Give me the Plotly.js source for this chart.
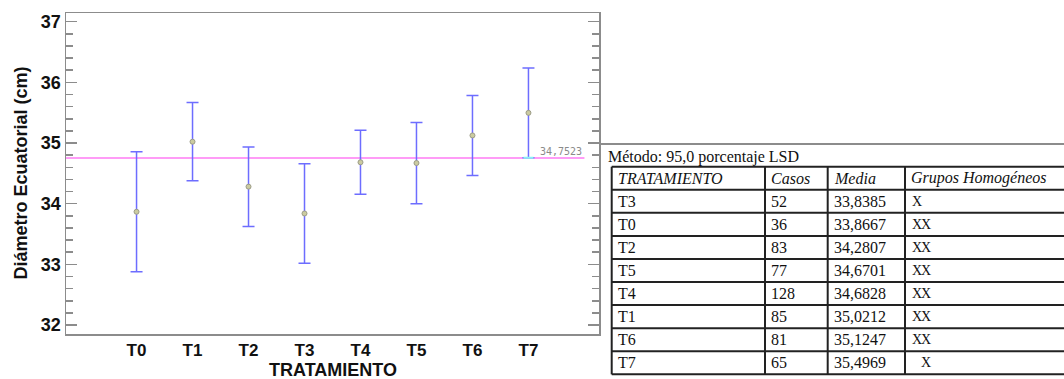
<!DOCTYPE html>
<html>
<head>
<meta charset="utf-8">
<script src="https://cdn.plot.ly/plotly-3.0.1.min.js"></script>
<style>
  html, body { margin: 0; padding: 0; background: #ffffff; }
  #chart { width: 1064px; height: 379px; }
</style>
</head>
<body>
<div id="chart"></div>
<script>
// Treatment means with 95% LSD intervals
const treatments = ['T0', 'T1', 'T2', 'T3', 'T4', 'T5', 'T6', 'T7'];
const means = [33.8667, 35.0212, 34.2807, 33.8385, 34.6828, 34.6701, 35.1247, 35.4969];
const lsdHalfWidth = [0.99, 0.645, 0.655, 0.82, 0.527, 0.67, 0.66, 0.74];
const grandMean = 34.7523;

// Multiple range test table (ordered by mean)
const methodText = 'Método: 95,0 porcentaje LSD';
const tableHeader = ['TRATAMIENTO', 'Casos', 'Media', 'Grupos Homogéneos'];
const tableTreatments = ['T3', 'T0', 'T2', 'T5', 'T4', 'T1', 'T6', 'T7'];
const tableCases = [52, 36, 83, 77, 128, 85, 81, 65];
const tableGroups = ['X', 'XX', 'XX', 'XX', 'XX', 'XX', 'XX', ' X'];

const xTitle = 'TRATAMIENTO';
const yTitle = 'Diámetro Ecuatorial (cm)';

const W = 1064, H = 379;
const fmt = v => v.toFixed(4).replace('.', ',');
const px = x => x / W;
const py = y => 1 - y / H;

const xIdx = treatments.map((_, i) => i);
const xRange = [-1.26, 8.26];
const yRange = [31.852, 37.143];

const traces = [{
  type: 'scatter',
  mode: 'markers',
  x: xIdx,
  y: means,
  marker: { size: 5, color: '#cbcba0', line: { color: '#9c9c88', width: 1 } },
  error_y: {
    type: 'data', array: lsdHalfWidth, symmetric: true,
    color: '#6d6dff', thickness: 1.5, width: 6
  },
  hoverinfo: 'x+y',
  showlegend: false
}];

const shapes = [
  // grand mean line
  { type: 'line', xref: 'x', yref: 'y', x0: xRange[0], x1: 8, y0: grandMean, y1: grandMean,
    line: { color: '#ff9cf7', width: 2 }, layer: 'below' },
  // lower cap of the last interval touching the grand mean
  { type: 'line', xref: 'x', yref: 'y', x0: 6.91, x1: 7.09,
    y0: means[7] - lsdHalfWidth[7], y1: means[7] - lsdHalfWidth[7],
    line: { color: '#8af0f5', width: 2 } },
  // rule above the table
  { type: 'line', xref: 'paper', yref: 'paper', x0: px(600), x1: 1, y0: py(144), y1: py(144),
    line: { color: '#8c8c8c', width: 2 } }
];

const axisFont = { family: 'Liberation Sans, Arial, sans-serif', size: 18, color: '#111', weight: 'bold' };

const annotations = [
  { xref: 'x', yref: 'y', x: 8, y: grandMean, xanchor: 'right', yanchor: 'middle', yshift: 7,
    text: fmt(grandMean), showarrow: false,
    font: { family: 'DejaVu Sans Mono', size: 10, color: '#8a8a8a' } },
  { xref: 'paper', yref: 'paper', x: px(606), y: py(157), xanchor: 'left', yanchor: 'middle',
    text: methodText, showarrow: false,
    font: { family: 'Liberation Serif', size: 16, color: '#111' } },
  // axis titles
  { xref: 'paper', yref: 'paper', x: px(332.5), y: py(369.5), xanchor: 'center', yanchor: 'middle',
    text: xTitle, showarrow: false, borderpad: 0, font: axisFont },
  { xref: 'paper', yref: 'paper', x: px(20), y: py(173.5), xanchor: 'center', yanchor: 'middle',
    text: yTitle, textangle: -90, showarrow: false, font: axisFont }
];

// Table grid
const colLeft = [611.7, 765, 827.7, 905];
const tableRight = W;
const rowTop = 166.7, rowH = 23.07;
const nRows = tableTreatments.length + 1;
const gridLine = { color: '#222', width: 2 };
for (let r = 0; r <= nRows; r++) {
  const y = rowTop + r * rowH;
  shapes.push({ type: 'line', xref: 'paper', yref: 'paper', x0: px(colLeft[0]), x1: px(tableRight),
    y0: py(y), y1: py(y), line: gridLine });
}
colLeft.forEach(x => {
  shapes.push({ type: 'line', xref: 'paper', yref: 'paper', x0: px(x), x1: px(x),
    y0: py(rowTop), y1: py(rowTop + nRows * rowH), line: gridLine });
});

const cellFont = { family: 'Liberation Serif', size: 16, color: '#111' };
const cellText = (col, row, text, extra) => Object.assign({
  xref: 'paper', yref: 'paper', x: px(colLeft[col] + 4), y: py(rowTop + (row + 0.5) * rowH),
  xanchor: 'left', yanchor: 'middle', text: text, showarrow: false, font: cellFont
}, extra || {});

tableHeader.forEach((h, c) => annotations.push(cellText(c, 0, '<i>' + h + '</i>')));
tableTreatments.forEach((t, i) => {
  const row = i + 1;
  annotations.push(cellText(0, row, t));
  annotations.push(cellText(1, row, String(tableCases[i])));
  annotations.push(cellText(2, row, fmt(means[treatments.indexOf(t)])));
  tableGroups[i].split('').forEach((ch, k) => {
    if (ch === 'X') {
      annotations.push(cellText(3, row, 'X', {
        x: px(colLeft[3] + 5 + k * 9),
        font: { family: 'Liberation Serif', size: 14, color: '#111' }
      }));
    }
  });
});

const layout = {
  width: W, height: H,
  margin: { l: 0, r: 0, t: 0, b: 0 },
  paper_bgcolor: '#ffffff',
  plot_bgcolor: '#ffffff',
  showlegend: false,
  xaxis: {
    domain: [px(66), px(599)],
    range: xRange,
    tickmode: 'array', tickvals: xIdx, ticktext: treatments,
    ticks: '', showgrid: false, zeroline: false,
    showline: true, linecolor: '#8c8c8c', linewidth: 1.5, mirror: true,
    tickfont: { family: 'Liberation Sans, Arial, sans-serif', size: 17, color: '#111', weight: 'bold' },
    automargin: false
  },
  yaxis: {
    domain: [py(334), py(13)],
    range: yRange,
    tickmode: 'linear', tick0: 32, dtick: 1,
    ticks: 'inside', ticklen: 11, tickwidth: 1.5, tickcolor: '#8c8c8c',
    minor: { ticks: 'inside', ticklen: 7, tickwidth: 1.5, tickcolor: '#8c8c8c', dtick: 0.2, tick0: 32, showgrid: false },
    showgrid: false, zeroline: false,
    showline: true, linecolor: '#8c8c8c', linewidth: 1.5, mirror: 'ticks',
    tickfont: axisFont,
    automargin: false
  },
  shapes: shapes,
  annotations: annotations
};

Plotly.newPlot('chart', traces, layout, { displayModeBar: false, staticPlot: true });
</script>
</body>
</html>
